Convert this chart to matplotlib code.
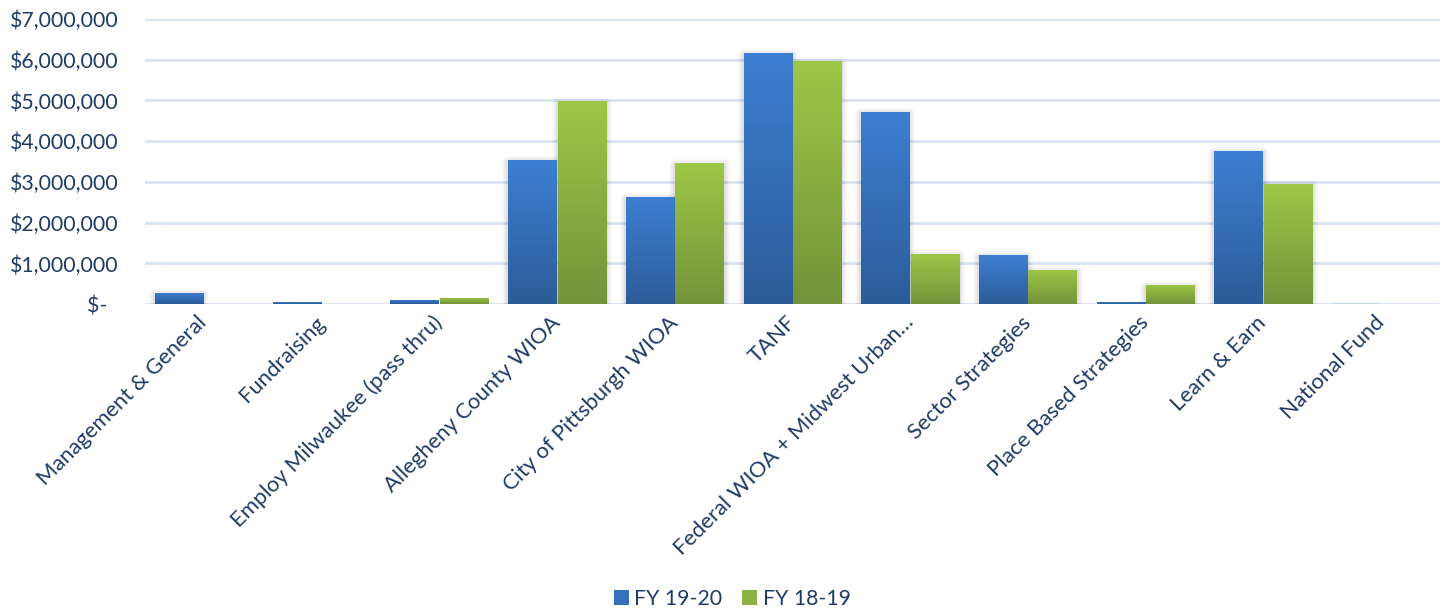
import matplotlib
matplotlib.use("Agg")
import matplotlib.pyplot as plt
import numpy as np
from matplotlib.colors import LinearSegmentedColormap
from matplotlib.patches import Rectangle
import matplotlib.transforms as mtransforms

categories = ["Management & General", "Fundraising", "Employ Milwaukee (pass thru)",
              "Allegheny County WIOA", "City of Pittsburgh WIOA", "TANF",
              "Federal WIOA + Midwest Urban\u2026", "Sector Strategies",
              "Place Based Strategies", "Learn & Earn", "National Fund"]
fy1920 = [270000, 50000, 100000, 3540000, 2630000, 6170000, 4720000, 1200000, 50000, 3760000, 20000]
fy1819 = [5000, 0, 150000, 4990000, 3460000, 5970000, 1230000, 840000, 470000, 2950000, 0]
series_names = ["FY 19-20", "FY 18-19"]
yticks = [0, 1000000, 2000000, 3000000, 4000000, 5000000, 6000000, 7000000]

plt.rcParams['font.family'] = ['Lato', 'DejaVu Sans']
TXT = '#1F3B66'
FS = 15.3
FSX = 15.8

fig = plt.figure(figsize=(14.47, 6.12), dpi=100)
ax = fig.add_axes([0.1002, 0.503, 0.8948, 0.466])

x = np.arange(len(categories))
w = 0.41
off = 0.21

blue_cmap = LinearSegmentedColormap.from_list('b', ['#2C5C98', '#3D7FD2'])
green_cmap = LinearSegmentedColormap.from_list('g', ['#73933A', '#9EC747'])

b1 = ax.bar(x - off, fy1920, w, color='#3570BE', zorder=3, linewidth=0)
b2 = ax.bar(x + off, fy1819, w, color='#8BB243', zorder=3, linewidth=0)

ax.set_xlim(-0.5, len(categories) - 0.5)
ax.set_ylim(0, 7000000)

grad = np.linspace(0, 1, 256).reshape(-1, 1)
for bars, cmap in ((b1, blue_cmap), (b2, green_cmap)):
    for bar in bars:
        x0, y0 = bar.get_x(), bar.get_y()
        bw, bh = bar.get_width(), bar.get_height()
        if bh <= 0:
            continue
        if bh >= 200000:
            for k, a in ((6, 0.03), (4, 0.045), (2, 0.06)):
                tr = mtransforms.offset_copy(ax.transData, fig=fig, x=0, y=-2, units='dots')
                sh = Rectangle((x0, y0), bw, bh, transform=tr, facecolor='black',
                               alpha=a, linewidth=k * 1.4, edgecolor='black', zorder=2.5)
                sh.set_joinstyle('round')
                ax.add_patch(sh)
        if bh < 30000:
            bar.set_facecolor('#C5D5EA')
            continue
        im = ax.imshow(grad, extent=[x0, x0 + bw, y0, y0 + bh], aspect='auto',
                       cmap=cmap, origin='lower', zorder=3.1, interpolation='bilinear')
        im.set_clip_path(bar)

ax.set_xlim(-0.5, len(categories) - 0.5)
ax.set_ylim(0, 7000000)

ax.set_yticks(yticks)
ax.set_yticklabels(["$-  "] + ["${:,.0f}".format(v) for v in yticks[1:]])
ax.grid(axis='y', color='#D9E4F2', linewidth=2, zorder=0)
ax.set_axisbelow(True)
for s in ax.spines.values():
    s.set_visible(False)
ax.tick_params(axis='y', length=0, colors=TXT, labelsize=FS, pad=19)
ax.tick_params(axis='x', length=0, colors=TXT, labelsize=FSX, pad=11)
ax.set_xticks(x)
ax.set_xticklabels(categories, rotation=45, ha='right', va='center',
                   rotation_mode='anchor', color=TXT)
for t in ax.get_yticklabels():
    t.set_color(TXT)

handles = [Rectangle((0, 0), 1, 1, facecolor='#3570BE'), Rectangle((0, 0), 1, 1, facecolor='#8BB243')]
fig.legend(handles, series_names, loc='center', bbox_to_anchor=(0.506, 0.022), ncol=2,
           frameon=False, fontsize=FS, labelcolor=TXT, handlelength=0.7, handleheight=0.7,
           handletextpad=0.25, columnspacing=0.95)

fig.savefig('out.png', dpi=100)
